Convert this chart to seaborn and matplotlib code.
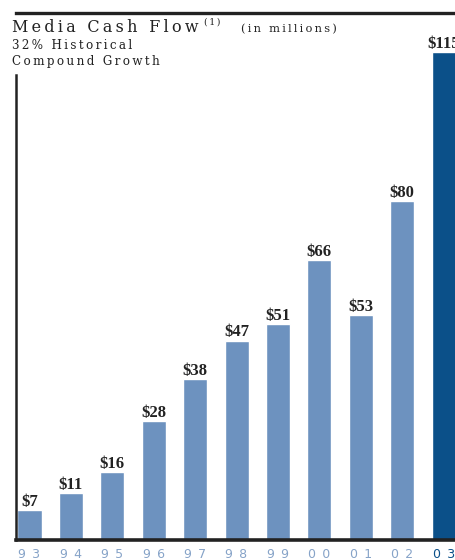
import matplotlib
matplotlib.use("Agg")
import matplotlib.pyplot as plt
import seaborn as sns
import pandas as pd

years = ["93", "94", "95", "96", "97", "98", "99", "00", "01", "02", "03"]
cash_flow = [7, 11, 16, 28, 38, 47, 51, 66, 53, 80, 115]
value_labels = ["$7", "$11", "$16", "$28", "$38", "$47", "$51", "$66", "$53", "$80", "$115"]

light_blue = "#6d92bf"
dark_blue = "#0b5089"
ink = "#222222"
tick_color = "#86a3c8"

sns.set_theme(style="white")
plt.rcParams["font.family"] = ["DejaVu Serif"]


def spaced(s, sep="\u2009"):
    """Open up letter spacing by putting a thin space between characters."""
    return sep.join(s)


fig = plt.figure(figsize=(4.56, 5.6), dpi=100)
W, H = 456, 560
# plot area: left edge x=16, right edge at the figure edge, bottom y=540, top y=13
ax = fig.add_axes([16 / W, (H - 540) / H, (W - 16) / W, (540 - 13) / H])

df = pd.DataFrame({"year": years, "value": cash_flow})
palette = {y: (dark_blue if y == "03" else light_blue) for y in years}
sns.barplot(data=df, x="year", y="value", hue="year", palette=palette,
            legend=False, width=0.58, saturation=1, ax=ax)

px_per_unit = 4.24
ax.set_xlim(-0.326, 10.30)
ax.set_ylim(0, (540 - 13) / px_per_unit)

for p in ax.patches:
    p.set_clip_on(False)

for i, (v, lab) in enumerate(zip(cash_flow, value_labels)):
    ax.text(i, v + 1.0, lab, ha="center", va="baseline", fontsize=12,
            fontweight="bold", color=ink, family="Liberation Serif",
            clip_on=False)

# spines
ax.spines["right"].set_visible(False)
ax.spines["top"].set_color(ink)
ax.spines["top"].set_linewidth(2.4)
ax.spines["bottom"].set_color(ink)
ax.spines["bottom"].set_linewidth(2.6)
ax.spines["left"].set_color(ink)
ax.spines["left"].set_linewidth(1.8)
ax.spines["left"].set_bounds(0, (540 - 75) / px_per_unit)

ax.set_yticks([])
ax.set_xlabel("")
ax.set_ylabel("")
ax.set_xticks(range(len(years)))
ax.set_xticklabels([spaced(y, "\u2002") for y in years], fontsize=9,
                   family="DejaVu Sans")
for lbl, y in zip(ax.get_xticklabels(), years):
    lbl.set_color(dark_blue if y == "03" else tick_color)
ax.tick_params(axis="x", length=0, pad=5.5)

# heading
fig.text(12 / W, 1 - 32 / H, spaced("Media Cash Flow"), fontsize=11.5,
         color=ink, family="DejaVu Serif", ha="left", va="baseline")
fig.text(204 / W, 1 - 25 / H, spaced("(1)"), fontsize=6.5, color=ink,
         family="DejaVu Serif", ha="left", va="baseline")
fig.text(241 / W, 1 - 32 / H, spaced("(in millions)"), fontsize=8.2,
         color=ink, family="DejaVu Serif", ha="left", va="baseline")
fig.text(12 / W, 1 - 49 / H, spaced("32% Historical"), fontsize=8.6,
         color=ink, family="DejaVu Serif", ha="left", va="baseline")
fig.text(12 / W, 1 - 65 / H, spaced("Compound Growth"), fontsize=8.6,
         color=ink, family="DejaVu Serif", ha="left", va="baseline")

fig.savefig("out.png", dpi=100)
